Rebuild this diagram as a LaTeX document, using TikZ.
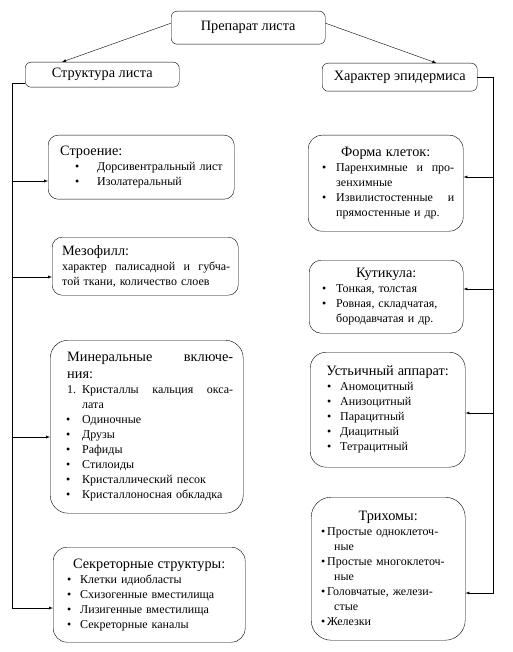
\documentclass[tikz,border=0pt]{standalone}
\usepackage{fontspec}
\setmainfont{Liberation Serif}
\usepackage{tikz}
\usetikzlibrary{arrows,positioning}
\newcommand{\hd}{\fontsize{14.3}{17}\selectfont}
\newcommand{\bd}{\fontsize{12}{15}\selectfont}
% bullet item: bullet offset, text offset, text
\newcommand{\itm}[3]{\par\hangindent=#2\hangafter=1\noindent\hspace*{#1}\makebox[\dimexpr#2-#1\relax][l]{\textbullet}#3}

\begin{document}
\begin{tikzpicture}
[x=1pt, y=-1pt, >=latex,
title/.style ={draw, thin, rounded corners=6pt, anchor=north west,
align=center, inner sep=0pt, font=\hd},
box/.style ={draw, thin, rounded corners=10pt, anchor=north west,
align=left, inner ysep=0pt, font=\bd},
line/.style ={draw, thin, ->}]
\useasboundingbox (0,0) rectangle (513,652);

\node [title, minimum width=154, minimum height=33]   (prep)  at (171,11)   {Препарат листа};
\node [title, minimum width=154, minimum height=25]   (str)   at (25,62)    {Структура листа};
\node [title, minimum width=155, minimum height=28]   (har)   at (322,63)   {Характер эпидермиса};

% left column
\node [box, minimum height=64, text width=170, inner xsep=8]   (stro)  at (48,135)
{\leftskip=4pt{\hd Строение:\par}
\itm{15pt}{37pt}{Дорсивентральный лист}
\itm{15pt}{37pt}{Изолатеральный}\par};
\node [box, minimum height=58, text width=170, inner xsep=8]   (mez)   at (52,237)
{\leftskip=2pt{\hd Мезофилл:\par}
характер\hfill палисадной\hfill и\hfill губча-\break той ткани, количество слоев\par};
\node [box, rounded corners=18pt, minimum height=173, text width=173, inner xsep=10]   (min)   at (50,340)
{\leftskip=7pt{\hd Минеральные\hfill включе-\break ния:\par}
\par\hangindent=15pt\hangafter=1\noindent\makebox[15pt][l]{1.}Кристаллы\hfill кальция\hfill окса-\break лата
\itm{-1pt}{15pt}{Одиночные}
\itm{-1pt}{15pt}{Друзы}
\itm{-1pt}{15pt}{Рафиды}
\itm{-1pt}{15pt}{Стилоиды}
\itm{-1pt}{15pt}{Кристаллический песок}
\itm{-1pt}{15pt}{Кристаллоносная обкладка}\par};
\node [box, rounded corners=14pt, minimum height=95, text width=172, inner xsep=10]   (sec)   at (53,547)
{\leftskip=5pt{\centering\hd Секреторные структуры:\par}
\itm{-1pt}{12pt}{Клетки идиобласты}
\itm{-1pt}{12pt}{Схизогенные вместилища}
\itm{-1pt}{12pt}{Лизигенные вместилища}
\itm{-1pt}{12pt}{Секреторные каналы}\par};

% right column
\node [box, rounded corners=14pt, minimum height=96, text width=137, inner xsep=9]   (form)  at (308,135)
{\leftskip=6pt{\centering\hd Форма клеток:\par}
\itm{-1pt}{13pt}{Паренхимные\hfill и\hfill про-\break зенхимные}
\itm{-1pt}{13pt}{Извилистостенные\hfill и\break прямостенные и др.}\par};
\node [box, rounded corners=12pt, minimum height=73, text width=136, inner xsep=9]   (kut)   at (309,260)
{\leftskip=5pt{\centering\hd Кутикула:\par}
\itm{-1pt}{13pt}{Тонкая, толстая}
\itm{-1pt}{13pt}{Ровная, складчатая,\break бородавчатая и др.}\par};
\node [box, rounded corners=16pt, minimum height=115, text width=137, inner xsep=9]   (ust)   at (310,352)
{\leftskip=9pt{\centering\hd Устьичный аппарат:\par}
\itm{-1pt}{12pt}{Аномоцитный}
\itm{-1pt}{12pt}{Анизоцитный}
\itm{-1pt}{12pt}{Парацитный}
\itm{-1pt}{12pt}{Диацитный}
\itm{-1pt}{12pt}{Тетрацитный}\par};
\node [box, rounded corners=20pt, minimum height=143, text width=136, inner xsep=9]   (tri)   at (311,497)
{\leftskip=2pt{\centering\hd Трихомы:\par}
\itm{-1pt}{5pt}{Простые одноклеточ-\break\hspace*{7pt}ные}
\itm{-1pt}{5pt}{Простые многоклеточ-\break\hspace*{7pt}ные}
\itm{-1pt}{5pt}{Головчатые, желези-\break\hspace*{7pt}стые}
\itm{-1pt}{5pt}{Железки}\par};

\coordinate (l1) at (12,181);
\coordinate (l2) at (12,277);
\coordinate (l3) at (12,437);
\coordinate (lb) at (12,608);
\coordinate (r1) at (493,177);
\coordinate (r2) at (493,289);
\coordinate (r3) at (493,413);
\coordinate (rb) at (493,593);

\draw [line] ([yshift=4.5pt]prep.west) to ([xshift=37pt]str.north west);
\draw [line] ([yshift=4.5pt]prep.east) to ([xshift=-41pt]har.north east);

\draw [line] ([yshift=4pt]str.south west) -| (lb) -- (lb -| sec.west);
\draw [line] (l1) to (l1 -| stro.west);
\draw [line] (l2) to (l2 -| mez.west);
\draw [line] (l3) to (l3 -| min.west);

\draw [line] (har.east) -| (rb) -- (rb -| tri.east);
\draw [line] (r1) to (r1 -| form.east);
\draw [line] (r2) to (r2 -| kut.east);
\draw [line] (r3) to (r3 -| ust.east);

\end{tikzpicture}
\end{document}
